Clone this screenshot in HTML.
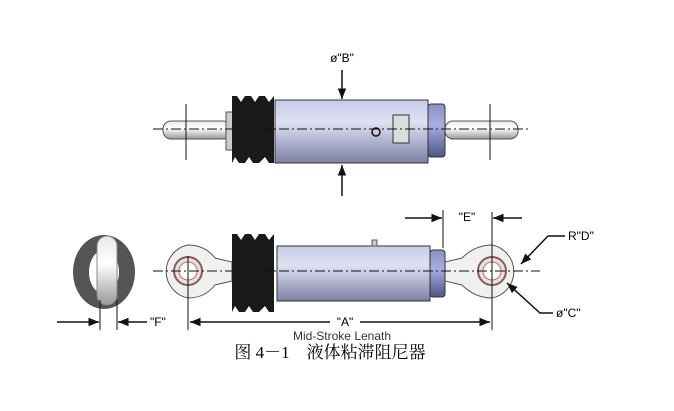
<!DOCTYPE html><html><head><style>body{margin:0;background:#fff}svg{display:block}text{font-family:"Liberation Sans",sans-serif}</style></head><body>
<svg width="674" height="411" viewBox="0 0 674 411" xmlns="http://www.w3.org/2000/svg">
<defs>
<linearGradient id="cyl" x1="0" y1="0" x2="0" y2="1"><stop offset="0" stop-color="#c6cae6"/><stop offset=".35" stop-color="#dfe1f3"/><stop offset="1" stop-color="#7c80a4"/></linearGradient>
<linearGradient id="col" x1="0" y1="0" x2="0" y2="1"><stop offset="0" stop-color="#8890c4"/><stop offset=".4" stop-color="#a8aee0"/><stop offset="1" stop-color="#4c5488"/></linearGradient>
<linearGradient id="rod" x1="0" y1="0" x2="0" y2="1"><stop offset="0" stop-color="#e8e8e8"/><stop offset=".4" stop-color="#fff"/><stop offset="1" stop-color="#999"/></linearGradient>
<marker id="ar" viewBox="0 0 10 10" refX="10" refY="5" markerWidth="7" markerHeight="7" orient="auto"><path d="M0,1 L10,5 L0,9 z" fill="#111"/></marker>
</defs>
<!-- TOP -->
<rect x="163" y="121" width="68" height="18" rx="8" fill="url(#rod)" stroke="#555"/>
<rect x="226" y="112" width="8" height="38" fill="#ccc" stroke="#555"/>
<rect x="445" y="121" width="73" height="18" rx="8" fill="url(#rod)" stroke="#555"/>
<path d="M232,96 L237,96 L241,102 L245,96 L251,96 L255,102 L259,96 L265,96 L269,102 L274,96 L274,163 L269,163 L265,157 L259,163 L253,163 L249,157 L245,163 L239,163 L235,157 L232,163 Z" fill="#1a1a1a"/>
<rect x="275" y="100" width="153" height="63" fill="url(#cyl)" stroke="#333"/>
<rect x="428" y="104" width="17" height="53" rx="3" fill="url(#col)" stroke="#333"/>
<rect x="393" y="115" width="16" height="28" fill="#ddd" stroke="#333"/>
<circle cx="376" cy="132" r="4" fill="none" stroke="#111" stroke-width="1.5"/>
<line x1="153" y1="129" x2="530" y2="129" stroke="#111" stroke-dasharray="10,3,2,3"/>
<line x1="186" y1="104" x2="186" y2="160" stroke="#111"/>
<line x1="490" y1="104" x2="490" y2="160" stroke="#111"/>
<line x1="342" y1="70" x2="342" y2="99" stroke="#111" stroke-width="1.5" marker-end="url(#ar)"/>
<line x1="342" y1="196" x2="342" y2="165" stroke="#111" stroke-width="1.5" marker-end="url(#ar)"/>
<text x="342" y="62" font-size="12" text-anchor="middle">ø"B"</text>
<!-- BOTTOM -->
<path d="M188,245 Q205,245 215,258 L232,262 L232,281 L215,285 Q205,298 188,298 A27,27 0 0 1 188,245 Z" fill="#f0f0f0" stroke="#555"/>
<circle cx="188" cy="271" r="14" fill="#e8e0e0" stroke="#8a5a5a" stroke-width="2"/>
<circle cx="188" cy="271" r="9" fill="#fff" stroke="#a77"/>
<path d="M492,245 Q475,245 462,258 L445,262 L445,281 L462,285 Q475,298 492,298 A27,27 0 0 0 492,245 Z" fill="#f0f0f0" stroke="#555"/>
<circle cx="492" cy="271" r="14" fill="#e8e0e0" stroke="#8a5a5a" stroke-width="2"/>
<circle cx="492" cy="271" r="9" fill="#fff" stroke="#a77"/>
<path d="M232,234 L237,234 L241,240 L245,234 L251,234 L255,240 L259,234 L265,234 L269,240 L274,234 L274,312 L269,312 L265,306 L259,312 L253,312 L249,306 L245,312 L239,312 L235,306 L232,312 Z" fill="#1a1a1a"/>
<rect x="277" y="246" width="153" height="55" fill="url(#cyl)" stroke="#333"/>
<rect x="372" y="240" width="5" height="6" fill="#ccc" stroke="#555"/>
<rect x="430" y="250" width="15" height="47" rx="3" fill="url(#col)" stroke="#333"/>
<line x1="153" y1="271" x2="540" y2="271" stroke="#111" stroke-dasharray="10,3,2,3"/>
<line x1="188" y1="256" x2="188" y2="330" stroke="#111"/>
<line x1="492" y1="212" x2="492" y2="330" stroke="#111"/>
<line x1="443" y1="210" x2="443" y2="248" stroke="#111"/>
<line x1="405" y1="218" x2="442" y2="218" stroke="#111" stroke-width="1.5" marker-end="url(#ar)"/>
<line x1="522" y1="218" x2="493" y2="218" stroke="#111" stroke-width="1.5" marker-end="url(#ar)"/>
<text x="467" y="221" font-size="12" text-anchor="middle">"E"</text>
<line x1="330" y1="322" x2="190" y2="322" stroke="#111" stroke-width="1.5" marker-end="url(#ar)"/>
<line x1="360" y1="322" x2="490" y2="322" stroke="#111" stroke-width="1.5" marker-end="url(#ar)"/>
<text x="345" y="326" font-size="12" text-anchor="middle">"A"</text>
<text x="342" y="340" font-size="12" text-anchor="middle" fill="#333">Mid-Stroke Lenath</text>
<polyline points="565,236 548,236 521,264" fill="none" stroke="#111" stroke-width="1.5" marker-end="url(#ar)"/>
<text x="568" y="240" font-size="12">R"D"</text>
<polyline points="553,313 540,313 507,283" fill="none" stroke="#111" stroke-width="1.5" marker-end="url(#ar)"/>
<text x="556" y="317" font-size="12">ø"C"</text>
<!-- side view -->
<ellipse cx="104" cy="272" rx="31" ry="37" fill="#555"/>
<ellipse cx="104" cy="272" rx="15" ry="22" fill="#fff"/>
<rect x="97" y="236" width="20" height="69" rx="10" fill="url(#rod)" stroke="#888"/>
<line x1="100" y1="300" x2="100" y2="330" stroke="#111"/>
<line x1="117" y1="300" x2="117" y2="330" stroke="#111"/>
<line x1="57" y1="322" x2="99" y2="322" stroke="#111" stroke-width="1.5" marker-end="url(#ar)"/>
<line x1="147" y1="322" x2="118" y2="322" stroke="#111" stroke-width="1.5" marker-end="url(#ar)"/>
<text x="150" y="326" font-size="12">"F"</text>
<text x="330" y="358" font-size="17" text-anchor="middle" style="font-family:'Liberation Serif','Noto Serif CJK SC',serif">图 4－1　液体粘滞阻尼器</text>
</svg></body></html>
